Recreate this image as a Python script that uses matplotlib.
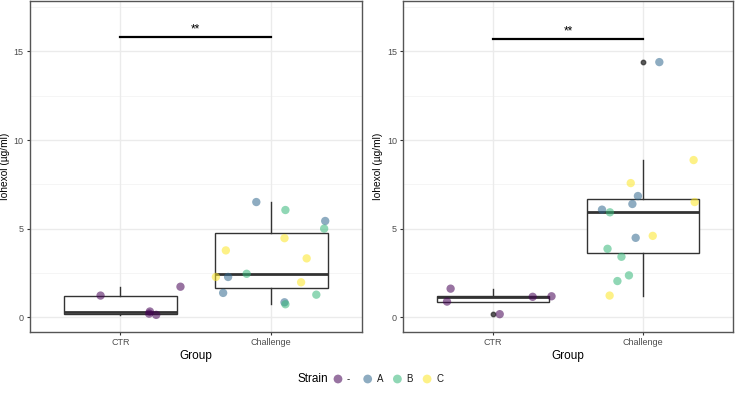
import matplotlib
matplotlib.use("Agg")
import matplotlib.pyplot as plt
import numpy as np

plt.rcParams['font.family'] = ['Liberation Sans', 'DejaVu Sans']

groups = ["CTR", "Challenge"]
strains = ["-", "A", "B", "C"]
strain_colors = ["#440154", "#31688E", "#35B779", "#FDE725"]

# Left panel
left_ctr_vals = [1.22, 1.72, 0.32, 0.20, 0.13]
left_ctr_strain = ["-", "-", "-", "-", "-"]
left_ctr_jit = [-0.132, 0.398, 0.195, 0.19, 0.237]
left_ch_vals = [6.50, 6.05, 5.43, 5.00, 4.46, 3.77, 3.32, 2.45, 2.27, 2.27, 1.97, 1.27, 1.37, 0.84, 0.73]
left_ch_strain = ["A", "B", "A", "B", "C", "C", "C", "B", "C", "A", "C", "B", "A", "A", "B"]
left_ch_jit = [-0.099, 0.094, 0.358, 0.351, 0.088, -0.301, 0.235, -0.163, -0.367, -0.286, 0.198, 0.299, -0.319, 0.088, 0.094]
left_sig_y = 15.82

# Right panel
right_ctr_vals = [1.61, 0.88, 1.15, 1.18, 0.17]
right_ctr_strain = ["-", "-", "-", "-", "-"]
right_ctr_jit = [-0.284, -0.308, 0.264, 0.390, 0.044]
right_ch_vals = [14.40, 8.87, 7.57, 6.84, 6.39, 6.50, 6.07, 5.92, 4.48, 4.59, 3.86, 3.41, 2.36, 2.04, 1.22]
right_ch_strain = ["A", "C", "C", "A", "A", "C", "A", "B", "A", "C", "B", "B", "B", "B", "C"]
right_ch_jit = [0.110, 0.339, -0.081, -0.033, -0.070, 0.346, -0.273, -0.220, -0.048, 0.066, -0.236, -0.143, -0.093, -0.170, -0.222]
right_sig_y = 15.73

sig_label = "**"
y_ticks = [0, 5, 10, 15]

W, H = 736, 404
fig = plt.figure(figsize=(W / 100, H / 100), dpi=100)

def frac(x0, y0, x1, y1):
    return [x0 / W, 1 - y1 / H, (x1 - x0) / W, (y1 - y0) / H]

cmap = dict(zip(strains, strain_colors))

def panel(ax, ctr_vals, ctr_strain, ctr_jit, ch_vals, ch_strain, ch_jit, sig_y, ylab_x):
    ax.set_facecolor("white")
    ax.set_xlim(0.4, 2.6)
    ax.set_ylim(-0.82, 17.85)
    for yv in [2.5, 7.5, 12.5, 17.5]:
        ax.axhline(yv, color="#f2f2f2", lw=0.5, zorder=0)
    for yv in y_ticks:
        ax.axhline(yv, color="#ebebeb", lw=1.0, zorder=0)
    for xv in [1, 2]:
        ax.axvline(xv, color="#ebebeb", lw=1.0, zorder=0)
    bp = ax.boxplot([ctr_vals, ch_vals], positions=[1, 2], widths=0.75,
                    whis=1.5, patch_artist=True, manage_ticks=False,
                    boxprops=dict(facecolor="white", edgecolor="#333333", lw=1.0),
                    medianprops=dict(color="#333333", lw=2.0),
                    whiskerprops=dict(color="#333333", lw=1.0),
                    capprops=dict(lw=0),
                    flierprops=dict(marker="o", markersize=3.2, markerfacecolor="#333333",
                                    markeredgecolor="#333333", alpha=0.8))
    for art in bp["boxes"] + bp["medians"] + bp["whiskers"]:
        art.set_zorder(2)
    for vals, strs, jit, pos in [(ctr_vals, ctr_strain, ctr_jit, 1), (ch_vals, ch_strain, ch_jit, 2)]:
        xs = pos + np.array(jit)
        cols = [cmap[s] for s in strs]
        ax.scatter(xs, vals, s=36, c=cols, alpha=0.55, edgecolors="none", zorder=3)
    ax.plot([1, 2], [sig_y, sig_y], color="black", lw=1.6, zorder=4)
    ax.text(1.5, sig_y + 0.4, sig_label, ha="center", va="center", fontsize=8.5, color="black")
    ax.set_xticks([1, 2])
    ax.set_xticklabels(groups, fontsize=6.5, color="#4d4d4d")
    ax.set_yticks(y_ticks)
    ax.set_yticklabels([str(v) for v in y_ticks], fontsize=6.5, color="#4d4d4d")
    ax.tick_params(length=2.5, width=0.8, color="#333333", pad=2)
    for sp in ax.spines.values():
        sp.set_color("#555555")
        sp.set_linewidth(1.0)
    ax.set_xlabel("Group", fontsize=8.5, labelpad=2)
    ax.set_ylabel("Iohexol (µg/ml)", fontsize=7.3)
    ax.yaxis.set_label_coords(ylab_x, 0.5)

ax1 = fig.add_axes(frac(30, 1, 361.7, 331.7))
panel(ax1, left_ctr_vals, left_ctr_strain, left_ctr_jit, left_ch_vals, left_ch_strain, left_ch_jit,
      left_sig_y, -20 / 331.7)
ax2 = fig.add_axes(frac(403.3, 1, 732.7, 331.7))
panel(ax2, right_ctr_vals, right_ctr_strain, right_ctr_jit, right_ch_vals, right_ch_strain, right_ch_jit,
      right_sig_y, -20 / 329.4)

# Legend drawn on an overlay in pixel coordinates
lax = fig.add_axes([0, 0, 1, 1], facecolor="none")
lax.set_xlim(0, W)
lax.set_ylim(H, 0)
lax.axis("off")
lax.text(298, 379, "Strain", fontsize=8.5, ha="left", va="center")
for i, (s, c) in enumerate(zip(strains, strain_colors)):
    mx = 338 + i * 29.7
    lax.scatter([mx], [379], s=40, c=[c], alpha=0.55, edgecolors="none")
    lax.text(mx + 9, 379, s, fontsize=7, ha="left", va="center", color="#1a1a1a")

fig.savefig("out.png", dpi=100, facecolor="white")
